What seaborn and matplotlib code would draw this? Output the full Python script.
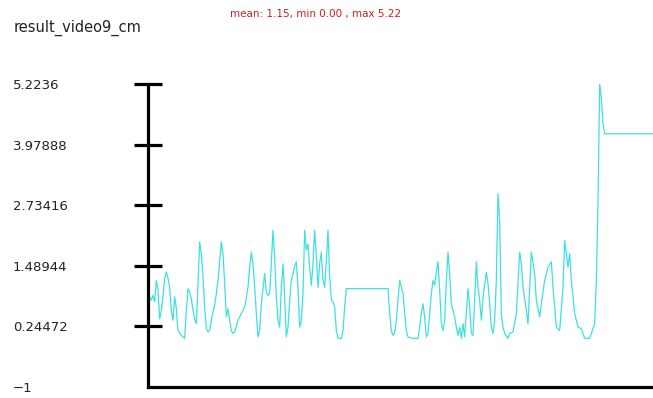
import matplotlib
matplotlib.use("Agg")
import matplotlib.pyplot as plt
import seaborn as sns
import pandas as pd

# frame index and measured value (cm) at each vertex of the trace
frames = [0, 1, 2, 3, 4, 5, 6, 7, 8, 9, 10, 11, 12, 13, 14, 15, 16, 17, 18, 20,
          22, 23, 24, 25, 26, 27, 28, 29, 30, 31, 32, 33, 34, 35, 36, 37, 38, 39, 40, 41,
          42, 44, 45, 46, 47, 48, 49, 50, 51, 52, 54, 56, 58, 60, 61, 62, 63, 64, 65, 66,
          67, 68, 70, 71, 72, 73, 74, 75, 76, 77, 78, 79, 80, 81, 82, 83, 84, 85, 86, 88,
          89, 90, 91, 92, 93, 94, 95, 96, 97, 98, 99, 100, 101, 102, 103, 104, 105, 106, 107, 108,
          109, 110, 111, 112, 113, 114, 116, 117, 118, 119, 144, 145, 146, 147, 148, 149, 150, 151, 153, 154,
          155, 156, 158, 162, 163, 164, 165, 166, 167, 168, 169, 170, 171, 172, 173, 174, 175, 176, 177, 178,
          179, 180, 181, 182, 183, 184, 185, 186, 187, 188, 189, 190, 191, 192, 193, 194, 195, 196, 197, 198,
          199, 200, 201, 203, 204, 205, 206, 207, 208, 209, 210, 211, 212, 213, 214, 216, 217, 219, 221, 223,
          224, 225, 227, 228, 230, 232, 233, 235, 236, 238, 240, 242, 243, 245, 247, 249, 250, 252, 253, 254,
          256, 258, 260, 262, 265, 268, 269, 270, 271, 272, 273, 274, 303]
cm = [0.44, 0.85, 0.78, 0.88, 0.75, 1.19, 0.99, 0.40, 0.57, 0.85, 1.23, 1.36, 1.23, 1.05, 0.57, 0.37, 0.85, 0.61, 0.16, 0.06,
      0.00, 0.57, 1.02, 0.95, 0.82, 0.57, 0.40, 0.30, 1.12, 1.98, 1.74, 1.26, 0.64, 0.20, 0.13, 0.16, 0.37, 0.54, 0.68, 0.92,
      1.19, 1.98, 1.74, 1.12, 0.44, 0.61, 0.37, 0.16, 0.10, 0.13, 0.37, 0.51, 0.64, 1.05, 1.46, 1.77, 1.53, 1.05, 0.51, 0.03,
      0.16, 0.71, 1.33, 0.95, 0.88, 0.92, 1.53, 2.22, 1.67, 0.85, 0.37, 0.23, 1.05, 1.53, 0.85, 0.03, 0.23, 0.78, 1.19, 1.48,
      1.57, 1.05, 0.23, 0.37, 0.92, 2.22, 1.81, 1.94, 1.46, 1.09, 1.53, 2.22, 1.67, 1.05, 1.53, 1.77, 1.19, 1.05, 1.60, 2.22,
      1.26, 0.78, 0.75, 0.64, 0.16, 0.00, 0.00, 0.16, 0.64, 1.02, 1.02, 0.51, 0.16, 0.06, 0.10, 0.37, 0.78, 1.19, 0.92, 0.51,
      0.16, 0.03, 0.00, 0.00, 0.23, 0.51, 0.71, 0.44, 0.03, 0.10, 0.51, 0.92, 1.19, 1.09, 1.36, 1.57, 0.99, 0.30, 0.16, 0.37,
      1.19, 1.77, 1.33, 0.71, 0.57, 0.44, 0.23, 0.06, 0.23, 0.00, 0.30, 0.03, 0.51, 1.02, 0.64, 0.10, 0.06, 0.78, 1.57, 1.05,
      0.78, 0.37, 0.85, 1.36, 1.12, 0.71, 0.23, 0.10, 0.37, 1.19, 2.97, 2.42, 0.51, 0.23, 0.10, 0.00, 0.10, 0.13, 0.51, 1.77,
      1.53, 1.05, 0.57, 0.30, 1.77, 1.33, 0.78, 0.44, 0.71, 1.19, 1.46, 1.57, 1.05, 0.23, 0.16, 1.05, 2.01, 1.46, 1.74, 1.19,
      0.51, 0.23, 0.20, 0.00, 0.00, 0.30, 1.19, 2.77, 5.22, 4.95, 4.41, 4.20, 4.20]

y_ticks = [-1, 0.24472, 1.48944, 2.73416, 3.97888, 5.2236]
y_tick_labels = ["\u22121", "0.24472", "1.48944", "2.73416", "3.97888", "5.2236"]
title = "result_video9_cm"
stats = "mean: 1.15, min 0.00 , max 5.22"

sns.set_style("white")
plt.rcParams["font.family"] = ["DejaVu Sans"]

W, H = 653, 398
fig = plt.figure(figsize=(W / 100, H / 100), dpi=100)
ax = fig.add_axes([148 / W, (H - 387) / H, (W - 148) / W, (387 - 84) / H])

df = pd.DataFrame({"frame": frames, "cm": cm})
sns.lineplot(data=df, x="frame", y="cm", ax=ax, color="#3ee0e0",
             linewidth=0.9, estimator=None, sort=False)

ax.set_xlim(0, 303)
ax.set_ylim(-1, 5.2236)
ax.set_xlabel("")
ax.set_ylabel("")
ax.set_xticks([])
ax.set_yticks(y_ticks)
ax.set_yticklabels(y_tick_labels)

for side in ("top", "right"):
    ax.spines[side].set_visible(False)
for side in ("left", "bottom"):
    ax.spines[side].set_color("black")
    ax.spines[side].set_linewidth(2.3)
    ax.spines[side].set_capstyle("projecting")

tick_len = 20
ax.tick_params(axis="y", which="major", left=True, right=False,
               direction="inout", length=tick_len, width=2.3,
               color="black", labelsize=9.5, labelcolor="#222222",
               pad=135 * 0.72 - tick_len / 2)
for lab in ax.get_yticklabels():
    lab.set_horizontalalignment("left")
# the bottom value sits on the x axis, without a tick mark
ax.yaxis.get_major_ticks()[0].tick1line.set_visible(False)

fig.text(14 / W, 1 - 28 / H, title, ha="left", va="center",
         fontsize=10.5, color="#222222")
fig.text(316 / W, 1 - 14 / H, stats, ha="center", va="center",
         fontsize=7.5, color="#cc2020")

fig.savefig("out.png", dpi=100)
